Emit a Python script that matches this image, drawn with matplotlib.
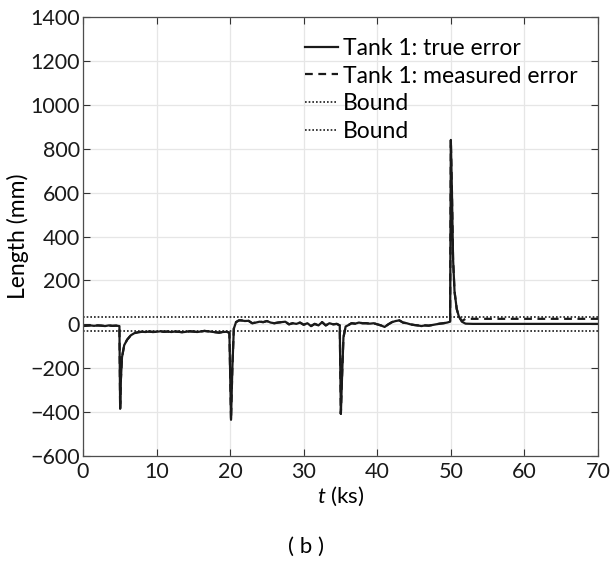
from matplotlib import pyplot as plt
import numpy as np

plt.rcParams['font.family'] = ['Lato', 'DejaVu Sans']
plt.rcParams['mathtext.fontset'] = 'custom'
plt.rcParams['mathtext.it'] = 'Lato:italic'
plt.rcParams['mathtext.rm'] = 'Lato'

# true error of tank 1 (ks, mm)
t_true = [0, 0.5, 1, 1.5, 2, 2.5, 3, 3.5, 4, 4.5, 4.95,
          5.05, 5.15, 5.3, 5.6, 6.0, 6.5, 7.0,
          7.5, 8, 8.5, 9, 9.5, 10, 10.5, 11, 11.5, 12, 12.5, 13, 13.5, 14,
          14.5, 15, 15.5, 16, 16.5, 17, 17.5, 18, 18.5, 19, 19.5, 19.9,
          20.12, 20.3, 20.5, 20.8, 21.2,
          21.5, 22, 22.5, 23, 23.5, 24, 24.5, 25, 25.5, 26, 26.5, 27, 27.5,
          28, 28.5, 29, 29.5, 30, 30.5, 31, 31.5, 32, 32.5, 33, 33.5, 34,
          34.5, 34.9,
          35.05, 35.2, 35.4, 35.7, 36,
          36.5, 37, 37.5, 38, 38.5, 39, 39.5, 40, 40.5, 41, 41.5, 42, 42.5,
          43, 43.5, 44, 44.5, 45, 45.5, 46, 46.5, 47, 47.5, 48, 48.5, 49,
          49.5, 49.9,
          50.0, 50.15, 50.3, 50.5, 50.8, 51.1, 51.5, 52, 53, 60, 70]
err_true = [-8, -6, -5, -7, -5, -6, -8, -5, -7, -6, -8,
            -385, -250, -150, -95, -70, -50, -40,
            -36, -34, -35, -33, -35, -34, -32, -34, -33, -35, -33, -34, -36, -34,
            -32, -33, -35, -33, -30, -32, -34, -36, -38, -35, -34, -38,
            -435, -200, -20, 10, 18,
            18, 15, 16, 5, 8, 12, 10, 15, 8, 5, 8, 10, 12,
            0, 5, 2, 8, -2, 5, -8, 2, -5, 10, -5, 5, 0,
            2, -5,
            -408, -250, -60, -10, -5,
            5, 3, 8, 5, 5, 3, 5, 0, -5, -12, 0, 10, 15,
            18, 8, 5, 0, -3, -5, -8, -5, -6, -3, 0, 3, 5,
            8, 12,
            840, 600, 300, 150, 70, 35, 12, 3, 2, 2, 2]

# measured error: same as true before t = 51.5 ks, then this tail
t_meas_tail = [51.5, 52, 53, 70]
err_meas_tail = [15, 25, 25, 25]

bound = 32
x_ticks = [0, 10, 20, 30, 40, 50, 60, 70]
y_ticks = [-600, -400, -200, 0, 200, 400, 600, 800, 1000, 1200, 1400]

t_true = np.array(t_true)
err_true = np.array(err_true)
keep = t_true < 51.5
t_meas = np.concatenate([t_true[keep], t_meas_tail])
err_meas = np.concatenate([err_true[keep], err_meas_tail])

fig = plt.figure(figsize=(6.13, 5.63), dpi=100)
ax = fig.add_axes([0.1354, 0.19, 0.8401, 0.7798])

ax.plot(t_true, err_true, color='#1a1a1a', lw=1.6, label='Tank 1: true error')
ax.plot(t_meas, err_meas, color='#1a1a1a', lw=1.6, ls=(0, (3.5, 2.5)),
        label='Tank 1: measured error')
ax.plot([0, 70], [bound, bound], color='#1a1a1a', lw=1.2, ls=(0, (1, 1.2)),
        label='Bound')
ax.plot([0, 70], [-bound, -bound], color='#1a1a1a', lw=1.2, ls=(0, (1, 1.2)),
        label='Bound')

ax.set_xlim(0, 70)
ax.set_ylim(-600, 1400)
ax.set_xticks(x_ticks)
ax.set_yticks(y_ticks)
ax.set_yticklabels([str(v).replace('-', '\u2212') for v in y_ticks])
ax.grid(True, color='#e6e6e6', lw=0.9)
ax.set_axisbelow(True)
ax.tick_params(direction='in', length=5, width=0.8, top=True, right=True,
               labelsize=15.5, colors='#333333', labelcolor='#1a1a1a')
ax.tick_params(axis='y', pad=2)
ax.tick_params(axis='x', pad=4)
for s in ax.spines.values():
    s.set_color('#4d4d4d')
    s.set_linewidth(0.9)

ax.set_xlabel('$t$ (ks)', fontsize=16, labelpad=2)
ax.set_ylabel('Length (mm)', fontsize=16.5, labelpad=1)

ax.legend(loc='upper right', frameon=False, fontsize=16.5, handlelength=1.45,
          handletextpad=0.2, labelspacing=0.3, borderaxespad=0.5,
          bbox_to_anchor=(1.0, 1.0))

fig.text(0.5, 0.028, '( b )', ha='center', va='center', fontsize=16)

plt.savefig('out.png', dpi=100)
